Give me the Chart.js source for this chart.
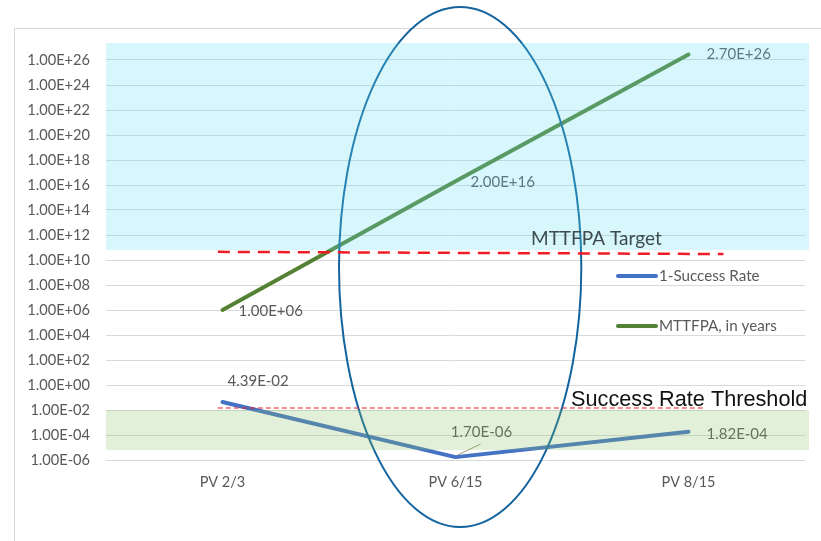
<!DOCTYPE html>
<html>
<head>
<meta charset="utf-8">
<script src="https://cdn.jsdelivr.net/npm/chart.js@4/dist/chart.umd.min.js"></script>
<style>
  html, body { margin: 0; padding: 0; background: #ffffff; }
  #wrap { width: 821px; height: 541px; position: relative; }
</style>
</head>
<body>
<div id="wrap"><canvas id="chart" width="821" height="541"></canvas></div>
<script>
// ---- data ----
const categories = ['PV 2/3', 'PV 6/15', 'PV 8/15'];
const failureRate = [4.39e-2, 1.70e-6, 1.82e-4];      // 1-Success Rate
const mttfpaYears = [1.00e6, 2.00e16, 2.70e26];       // MTTFPA, in years
const seriesNames = ['1-Success Rate', 'MTTFPA, in years'];
const yTickValues = [1e-6, 1e-4, 1e-2, 1e0, 1e2, 1e4, 1e6, 1e8, 1e10, 1e12,
                     1e14, 1e16, 1e18, 1e20, 1e22, 1e24, 1e26];
const yRange = [1e-6, Math.pow(10, 27.36)];

// reference levels (values on the log axis, spans in category units)
const mttfpaTarget = [4.5e10, 3.0e10];
const mttfpaTargetSpan = [-0.02, 2.15];
const successThreshold = 1.45e-2;
const successThresholdSpan = [-0.02, 2.07];
const mttfpaZone = [Math.pow(10, 10.8), Math.pow(10, 27.36)];
const successZone = [Math.pow(10, -5.2), 1e-2];
const highlightIndex = 1.02;                 // centre of the ringed release
const highlightHalfWidth = 0.52;             // in category widths
const highlightVertical = [Math.pow(10, 30.24), Math.pow(10, -11.36)];

// ---- helpers ----
function sci(v) {
  const e = Math.floor(Math.log10(v) + 1e-9);
  const m = v / Math.pow(10, e);
  return m.toFixed(2) + 'E' + (e < 0 ? '-' : '+') + String(Math.abs(e)).padStart(2, '0');
}

const FONT = 'Lato, "Open Sans", sans-serif';
const GRAY = '#595959';
const BLUE = '#4472c4';
const GREEN = '#548235';

// label placement around each point: [dx, dy, align]
const blueLabelPos = [[5, -21, 'left'], [26, -25, 'center'], [18, 2, 'left']];
const greenLabelPos = [[16, 1, 'left'], [15, 1, 'left'], [18, 0, 'left']];

const framePlugin = {
  id: 'frame',
  beforeDraw(chart) {
    const ctx = chart.ctx;
    ctx.save();
    ctx.fillStyle = '#ffffff';
    ctx.fillRect(0, 0, chart.width, chart.height);
    ctx.strokeStyle = '#d9d9d9';
    ctx.lineWidth = 1;
    ctx.beginPath();
    ctx.moveTo(14.5, chart.height);
    ctx.lineTo(14.5, 28.5);
    ctx.lineTo(chart.width, 28.5);
    ctx.stroke();
    ctx.restore();
  }
};

const overlayPlugin = {
  id: 'overlay',
  afterDatasetsDraw(chart) {
    const ctx = chart.ctx;
    const xs = chart.scales.x, ys = chart.scales.y;
    const area = chart.chartArea;
    ctx.save();

    // value labels
    ctx.font = '15px ' + FONT;
    ctx.fillStyle = GRAY;
    ctx.textBaseline = 'middle';
    [[failureRate, blueLabelPos], [mttfpaYears, greenLabelPos]].forEach(([vals, pos]) => {
      vals.forEach((v, i) => {
        const px = xs.getPixelForValue(i), py = ys.getPixelForValue(v);
        ctx.textAlign = pos[i][2];
        ctx.fillText(sci(v), px + pos[i][0], py + pos[i][1]);
      });
    });
    // leader line for the low point
    {
      const px = xs.getPixelForValue(1), py = ys.getPixelForValue(failureRate[1]);
      ctx.strokeStyle = '#9a9a80';
      ctx.lineWidth = 1;
      ctx.beginPath();
      ctx.moveTo(px + 2, py - 2);
      ctx.lineTo(px + 25, py - 13);
      ctx.stroke();
    }

    // ring around the highlighted release
    {
      const cx = xs.getPixelForValue(highlightIndex);
      const rx = (xs.getPixelForValue(1) - xs.getPixelForValue(0)) * highlightHalfWidth;
      const yTop = ys.getPixelForValue(highlightVertical[0]);
      const yBot = ys.getPixelForValue(highlightVertical[1]);
      ctx.strokeStyle = '#13649f';
      ctx.lineWidth = 2;
      ctx.beginPath();
      ctx.ellipse(cx, (yTop + yBot) / 2, rx, (yBot - yTop) / 2, 0, 0, Math.PI * 2);
      ctx.stroke();
    }

    // shaded zones
    const zoneRight = area.right + 4;
    ctx.fillStyle = 'rgba(100,225,245,0.25)';
    {
      const y1 = ys.getPixelForValue(mttfpaZone[1]), y2 = ys.getPixelForValue(mttfpaZone[0]);
      ctx.fillRect(area.left, y1, zoneRight - area.left, y2 - y1);
    }
    ctx.fillStyle = 'rgba(140,195,105,0.25)';
    {
      const y1 = ys.getPixelForValue(successZone[1]), y2 = ys.getPixelForValue(successZone[0]);
      ctx.fillRect(area.left, y1, zoneRight - area.left, y2 - y1);
    }

    // MTTFPA target
    ctx.strokeStyle = '#ee1c25';
    ctx.lineWidth = 2.5;
    ctx.setLineDash([12, 8]);
    const t0 = [xs.getPixelForValue(mttfpaTargetSpan[0]), ys.getPixelForValue(mttfpaTarget[0])];
    const t1 = [xs.getPixelForValue(mttfpaTargetSpan[1]), ys.getPixelForValue(mttfpaTarget[1])];
    ctx.beginPath();
    ctx.moveTo(t0[0], t0[1]);
    ctx.lineTo(t1[0], t1[1]);
    ctx.stroke();

    // success-rate threshold
    ctx.lineWidth = 1.2;
    ctx.setLineDash([5, 3]);
    const sy = ys.getPixelForValue(successThreshold);
    ctx.beginPath();
    ctx.moveTo(xs.getPixelForValue(successThresholdSpan[0]), sy);
    ctx.lineTo(xs.getPixelForValue(successThresholdSpan[1]), sy);
    ctx.stroke();
    ctx.setLineDash([]);

    // captions
    ctx.textBaseline = 'alphabetic';
    ctx.textAlign = 'left';
    ctx.fillStyle = '#3e4b4f';
    ctx.font = '19px ' + FONT;
    ctx.fillText('MTTFPA Target', xs.getPixelForValue(1.324), t0[1] + (t1[1] - t0[1]) * 0.62 - 8);
    ctx.fillStyle = '#111111';
    ctx.font = '21.7px "Liberation Sans", Arial, sans-serif';
    ctx.fillText('Success Rate Threshold', xs.getPixelForValue(1.496), sy - 2);

    // legend
    const legendX = area.right - 187;
    const legendY = [area.top + 233, area.top + 283];
    chart.data.datasets.forEach((ds, i) => {
      ctx.strokeStyle = ds.borderColor;
      ctx.lineWidth = 4;
      ctx.lineCap = 'round';
      ctx.beginPath();
      ctx.moveTo(legendX, legendY[i]);
      ctx.lineTo(legendX + 38, legendY[i]);
      ctx.stroke();
      ctx.fillStyle = GRAY;
      ctx.font = '15.2px ' + FONT;
      ctx.textBaseline = 'middle';
      ctx.fillText(ds.label, legendX + 41, legendY[i]);
    });

    ctx.restore();
  }
};

new Chart(document.getElementById('chart'), {
  type: 'line',
  data: {
    labels: categories,
    datasets: [
      {
        label: seriesNames[0],
        data: failureRate,
        borderColor: BLUE,
        borderWidth: 4,
        pointRadius: 0,
        tension: 0,
        borderCapStyle: 'round',
        borderJoinStyle: 'round'
      },
      {
        label: seriesNames[1],
        data: mttfpaYears,
        borderColor: GREEN,
        borderWidth: 4,
        pointRadius: 0,
        tension: 0,
        borderCapStyle: 'round',
        borderJoinStyle: 'round'
      }
    ]
  },
  options: {
    responsive: false,
    animation: false,
    devicePixelRatio: 1,
    layout: { padding: { top: 43, right: 16, left: 0, bottom: 0 } },
    plugins: {
      legend: { display: false },
      tooltip: { enabled: false }
    },
    scales: {
      x: {
        type: 'category',
        offset: true,
        grid: { display: false, drawTicks: false },
        border: { display: false },
        ticks: { color: GRAY, font: { family: FONT, size: 14.5 }, padding: 14 },
        afterFit(scale) { scale.height = 81; }
      },
      y: {
        type: 'logarithmic',
        min: yRange[0],
        max: yRange[1],
        grid: { color: '#d9d9d9', lineWidth: 1, drawTicks: false },
        border: { display: false },
        ticks: {
          color: GRAY,
          font: { family: FONT, size: 14.6 },
          padding: 16,
          autoSkip: false,
          callback: (v) => sci(v)
        },
        afterBuildTicks(scale) { scale.ticks = yTickValues.map(v => ({ value: v })); },
        afterFit(scale) { scale.width = 106; }
      }
    }
  },
  plugins: [framePlugin, overlayPlugin]
});
</script>
</body>
</html>
